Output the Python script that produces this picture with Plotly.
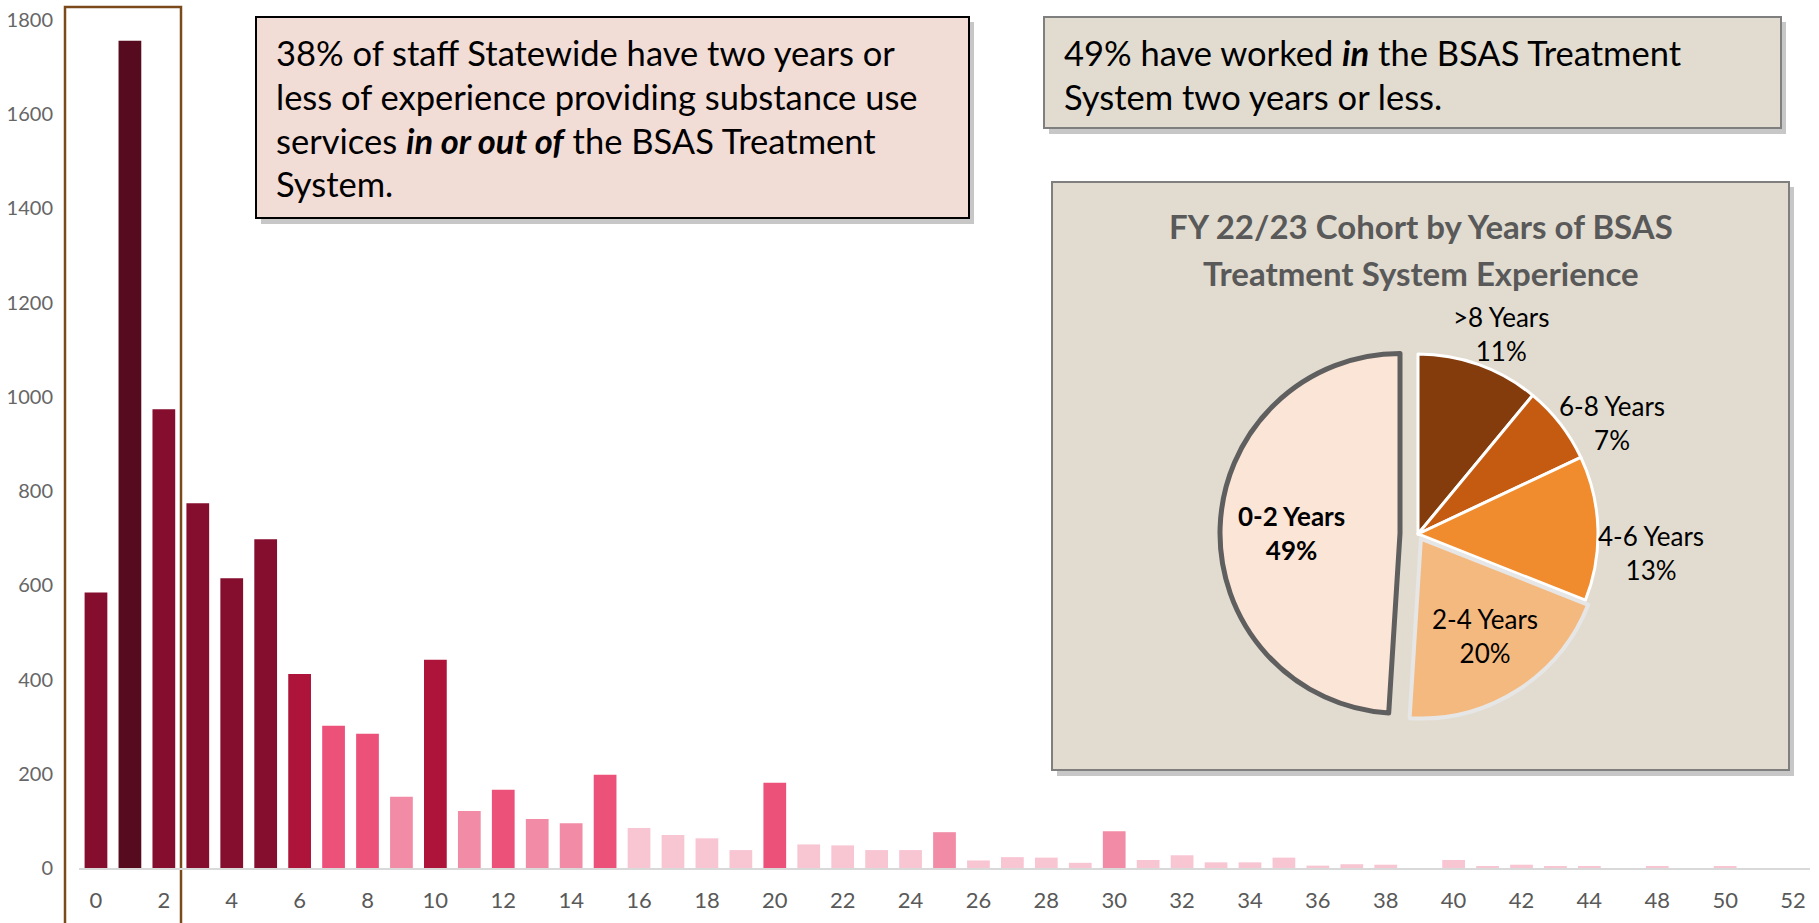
import plotly.graph_objects as go

W, H = 1819, 923

# years of experience (category axis; 46/47 not present in the data)
years = [str(y) for y in range(0, 46)] + ["48", "49", "50", "51", "52"]
staff = [585, 1756, 974, 774, 615, 698, 412, 302, 285, 151,
         442, 121, 166, 104, 95, 198, 85, 70, 63, 38,
         181, 50, 48, 38, 38, 76, 16, 23, 22, 11,
         78, 17, 27, 12, 12, 22, 5, 8, 7, 0,
         17, 3, 7, 3, 3, 0, 3, 0, 3, 0, 0]
tick_labels = years[::2]

pie_labels = [">8 Years", "6-8 Years", "4-6 Years", "2-4 Years", "0-2 Years"]
pie_values = [11, 7, 13, 20, 49]

# shades used in the column chart
C0, C1, C2, C3, C4, C5 = "#560B1F", "#850E2E", "#AE1439", "#EC5279", "#F28BA5", "#F8C5D3"
bar_colors = [C1, C0, C1, C1, C1, C1, C2, C3, C3, C4,
              C2, C4, C3, C4, C4, C3, C5, C5, C5, C5,
              C3, C5, C5, C5, C5, C4, C5, C5, C5, C5,
              C4] + [C5] * 20

pie_colors = ["#843C0C", "#C55A11", "#F08C2E", "#F4B97F", "#FBE5D6"]
# where each slice label sits (pixels)
pie_label_pos = [(1501, 334), (1612, 423), (1651, 553), (1485, 636), (1291, 533)]

FONT = "Lato"


def px(x):
    return x / W


def py(y):
    return 1 - y / H


fig = go.Figure()

fig.add_trace(go.Bar(
    x=years, y=staff,
    marker=dict(color=bar_colors, line=dict(width=0)),
    showlegend=False, hoverinfo="x+y",
))

fig.add_trace(go.Pie(
    labels=pie_labels, values=pie_values,
    sort=False, direction="clockwise", rotation=0,
    pull=[0, 0, 0, 0.03, 0.1],
    marker=dict(colors=pie_colors,
                line=dict(color=["white", "white", "white", "#E6E6E6", "#5F5F5F"],
                          width=[3, 3, 3, 4, 5])),
    textinfo="none", automargin=False,
    domain=dict(x=[px(1220), px(1616)], y=[py(732), py(336)]),
    showlegend=False,
))

shapes = []


def box(x0, y0, x1, y1, fill, line, lw, shadow=True):
    if shadow:
        shapes.append(dict(type="rect", xref="paper", yref="paper", layer="below",
                           x0=px(x0 + 5), x1=px(x1 + 5), y0=py(y0 + 5), y1=py(y1 + 6),
                           fillcolor="rgba(0,0,0,0.22)", line=dict(width=0)))
    shapes.append(dict(type="rect", xref="paper", yref="paper", layer="below",
                       x0=px(x0), x1=px(x1), y0=py(y0), y1=py(y1),
                       fillcolor=fill, line=dict(color=line, width=lw)))


box(256, 17, 969, 218, "#F2DCD6", "#000000", 2)
box(1044, 17, 1781, 128, "#E2DCD0", "#7F7F7F", 2)
box(1052, 182, 1789, 770, "#E2DCD0", "#7F7F7F", 2)

# frame around the 0-2 year columns
shapes.append(dict(type="rect", xref="paper", yref="paper", layer="below",
                   x0=px(65), x1=px(181), y0=py(930), y1=py(7),
                   line=dict(color="#7B4A1A", width=2.5)))

annotations = []


def text_line(x, y, s, size=34.5, color="black", anchor="left"):
    annotations.append(dict(xref="paper", yref="paper", x=px(x), y=py(y),
                            xanchor=anchor, yanchor="middle", showarrow=False,
                            text=s, font=dict(family=FONT, size=size, color=color)))


text_line(274, 52, "38% of staff Statewide have two years or")
text_line(274, 96, "less of experience providing substance use")
text_line(274, 140, "services <b><i>in or out of</i></b> the BSAS Treatment")
text_line(274, 184, "System.")

text_line(1062, 52, "49% have worked <b><i>in</i></b> the BSAS Treatment")
text_line(1062, 96, "System two years or less.")

text_line(1421, 226, "<b>FY 22/23 Cohort by Years of BSAS</b>", size=33, color="#595959", anchor="center")
text_line(1421, 273, "<b>Treatment System Experience</b>", size=33, color="#595959", anchor="center")

total = sum(pie_values)
for i, (lab, val) in enumerate(zip(pie_labels, pie_values)):
    s = f"{lab}<br>{val / total * 100:.0f}%"
    if lab == "0-2 Years":
        s = f"<b>{s}</b>"
    x, y = pie_label_pos[i]
    text_line(x, y, s, size=26, anchor="center")

fig.update_layout(
    width=W, height=H, autosize=False,
    margin=dict(l=0, r=0, t=0, b=0, pad=0, autoexpand=False),
    paper_bgcolor="white", plot_bgcolor="rgba(0,0,0,0)",
    bargap=0.33,
    shapes=shapes, annotations=annotations,
    xaxis=dict(domain=[px(79), px(1810)], type="category",
               range=[-0.5, len(years) - 0.5], automargin=False,
               tickmode="array", tickvals=tick_labels, ticktext=tick_labels,
               tickfont=dict(family=FONT, size=22, color="#595959"),
               ticks="outside", ticklen=12, tickcolor="rgba(0,0,0,0)",
               showline=True, linecolor="#D9D9D9", linewidth=2,
               showgrid=False, zeroline=False),
    yaxis=dict(domain=[py(868), py(20)], range=[0, 1800], dtick=200, automargin=False,
               tickfont=dict(family=FONT, size=20, color="#666666"),
               ticks="outside", ticklen=21, tickcolor="rgba(0,0,0,0)",
               showline=False, showgrid=False, zeroline=False),
)

# pin the graph to the page corner (no body margin)
pin = ("document.body.style.margin='0';"
       "var gd=document.getElementById('{plot_id}');"
       "gd.style.position='fixed';gd.style.top='0';gd.style.left='0';")
fig.write_html("out.html", config={"displayModeBar": False}, post_script=pin)
